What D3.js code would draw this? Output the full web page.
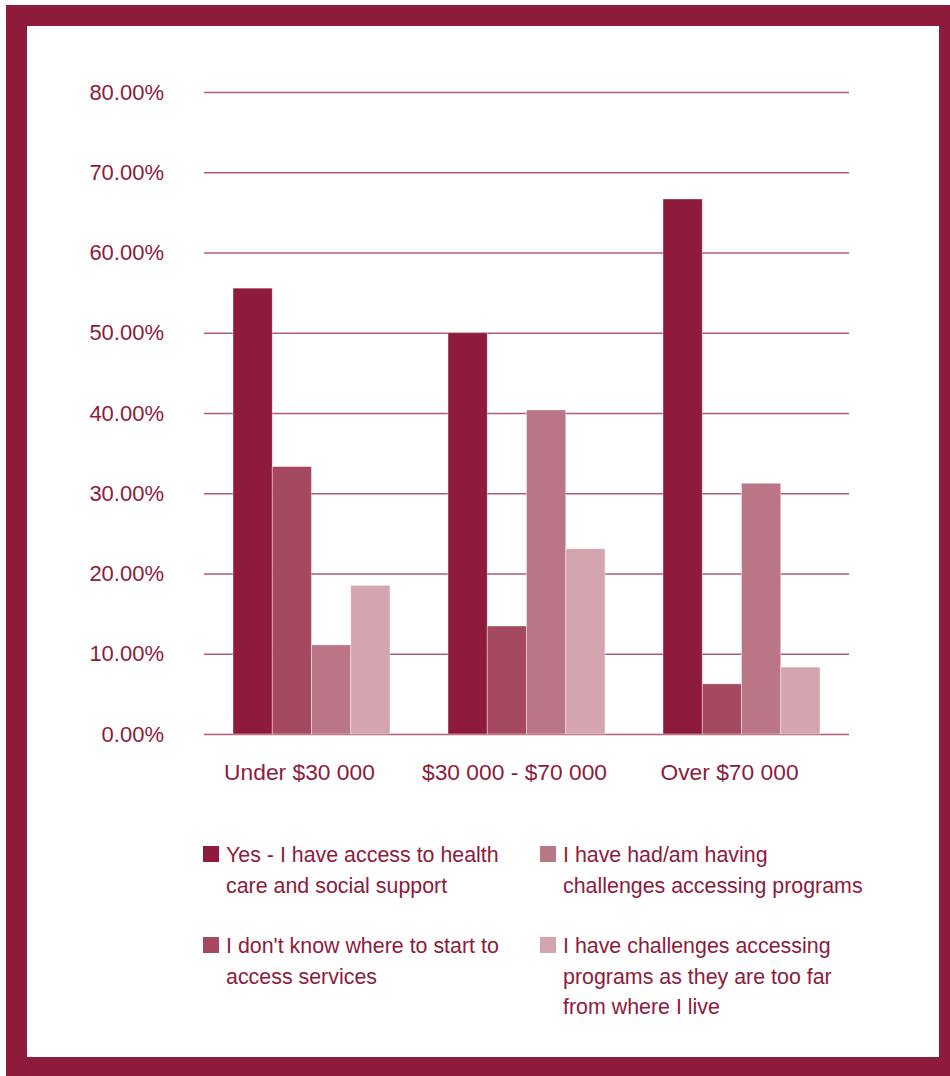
<!DOCTYPE html>
<html>
<head>
<meta charset="utf-8">
<script src="https://cdn.jsdelivr.net/npm/d3@7"></script>
<style>
  html, body { margin: 0; padding: 0; background: #fff; }
  svg { display: block; }
  text { font-family: "Liberation Sans", Arial, sans-serif; fill: #8E1B3B; }
</style>
</head>
<body>
<svg id="chart" width="950" height="1076"></svg>
<script>
// Income groups along the x axis
const categories = ["Under $30 000", "$30 000 - $70 000", "Over $70 000"];

// Share of respondents per answer, one array per answer (percent)
const seriesNames = [
  ["Yes - I have access to health", "care and social support"],
  ["I don't know where to start to", "access services"],
  ["I have had/am having", "challenges accessing programs"],
  ["I have challenges accessing", "programs as they are too far", "from where I live"]
];
const accessYes      = [55.56, 50.00, 66.67];
const dontKnowStart  = [33.33, 13.46, 6.25];
const challengesProg = [11.11, 40.38, 31.25];
const tooFar         = [18.52, 23.08, 8.33];
const seriesValues = [accessYes, dontKnowStart, challengesProg, tooFar];

const yTicks = [0, 10, 20, 30, 40, 50, 60, 70, 80];
const colors = ["#8E1B3B", "#A4495F", "#BA7587", "#D4A4AF"];

const svg = d3.select("#chart");

// Frame
svg.append("rect").attr("x", 6).attr("y", 5).attr("width", 944).attr("height", 1071).attr("fill", "#8E1B3B");
svg.append("rect").attr("x", 27).attr("y", 26).attr("width", 912).attr("height", 1031).attr("fill", "#fff");

const x0 = d3.scaleBand().domain(categories).range([204, 849]);
const x1 = d3.scaleBand().domain(d3.range(4)).range([0, 157]);
const y = d3.scaleLinear().domain([0, 80]).range([734, 92]);

// Gridlines and y labels
const yAxis = d3.axisLeft(y).tickValues(yTicks).tickSize(-(849 - 204)).tickPadding(40)
  .tickFormat(d => d.toFixed(2) + "%");
const gy = svg.append("g").attr("transform", "translate(204,0)").call(yAxis);
gy.select(".domain").remove();
gy.selectAll(".tick line").attr("stroke", "#B05C74").attr("stroke-width", 1.3);
gy.selectAll(".tick text").attr("font-size", 22).attr("fill", "#8E1B3B")
  .attr("font-family", "'Liberation Sans', Arial, sans-serif");

// Bars
const groups = svg.append("g").selectAll("g").data(categories).join("g")
  .attr("transform", d => `translate(${x0(d) + (x0.bandwidth() - 157) / 2},0)`);
groups.selectAll("rect")
  .data((c, ci) => seriesValues.map((vals, si) => ({ si, v: vals[ci] })))
  .join("rect")
  .attr("x", d => x1(d.si))
  .attr("width", x1.bandwidth())
  .attr("y", d => y(d.v))
  .attr("height", d => y(0) - y(d.v))
  .attr("fill", d => colors[d.si])
  .attr("stroke", "rgba(255,255,255,0.5)")
  .attr("stroke-width", 0.8);

// Category labels
const xAxis = d3.axisBottom(x0).tickSize(0).tickPadding(0);
const gx = svg.append("g").attr("transform", "translate(-12,764)").call(xAxis);
gx.select(".domain").remove();
gx.selectAll(".tick text").attr("font-size", 22.8).attr("dy", "0.71em").attr("fill", "#8E1B3B")
  .attr("font-family", "'Liberation Sans', Arial, sans-serif");

// Legend
const legendPos = [
  { sx: 203, tx: 226, y: 855 },
  { sx: 203, tx: 226, y: 946 },
  { sx: 540, tx: 563, y: 855 },
  { sx: 540, tx: 563, y: 946 }
];
const lg = svg.append("g");
seriesNames.forEach((lines, i) => {
  const p = legendPos[i];
  lg.append("rect").attr("x", p.sx).attr("y", p.y - 9).attr("width", 16).attr("height", 16).attr("fill", colors[i]);
  lines.forEach((ln, k) => {
    lg.append("text").attr("x", p.tx).attr("y", p.y + k * 30.5).attr("dy", "0.35em")
      .attr("font-size", 21.4).text(ln);
  });
});
</script>
</body>
</html>
